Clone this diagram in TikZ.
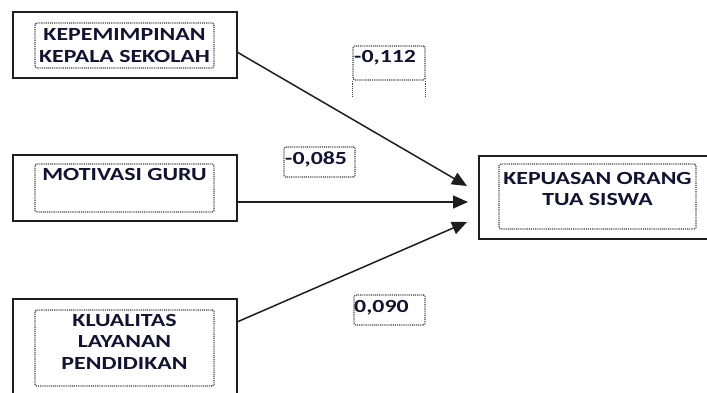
\documentclass[tikz,border=0pt]{standalone}
\usepackage{fontspec}
\usepackage{graphicx}
\setmainfont{Carlito}
\usetikzlibrary{arrows.meta}
\definecolor{txtc}{RGB}{18,18,50}
\definecolor{linec}{RGB}{30,30,30}
\newcommand\wt[1]{\scalebox{1.29}[1]{#1}}
\tikzset{
  outerbox/.style={draw=linec, line width=1.5pt, minimum width=#1, inner sep=0pt},
  dotbox/.style={draw=black!75, line width=1.2pt, dash pattern=on 1pt off 0.9pt, rounded corners=1.5pt, inner sep=0pt},
  txt/.style={anchor=base, inner sep=0pt, text=txtc, font=\fontsize{18.5}{20}\selectfont\bfseries},
  lbl/.style={anchor=base west, inner sep=0pt, text=txtc, font=\fontsize{18.5}{20}\selectfont\bfseries},
  conn/.style={draw=linec, line width=1.5pt, -{Triangle[length=15pt,width=13pt]}}
}
\begin{document}
\begin{tikzpicture}[x=1pt,y=-1pt]
\useasboundingbox (0,0) rectangle (707,392);
% outer boxes
\node[outerbox=224pt, minimum height=66pt] (kep) at (125,45) {};
\node[outerbox=224pt, minimum height=66pt] (mot) at (125,188) {};
\node[outerbox=224pt, minimum height=101pt] (kua) at (125,349.5) {};
\node[outerbox=241pt, minimum height=83pt] (ortu) at (599.5,197.5) {};
% inner dotted boxes
\node[dotbox, minimum width=179pt, minimum height=45pt] (kepin) at (124.5,45.5) {};
\node[dotbox, minimum width=179pt, minimum height=48pt] (motin) at (124.5,188) {};
\node[dotbox, minimum width=179pt, minimum height=76pt] (kuain) at (124.5,348) {};
\node[dotbox, minimum width=197pt, minimum height=65pt] (ortuin) at (597.5,196.5) {};
% texts
\node[txt] (kept1) at (124.5,40) {\wt{KEPEMIMPINAN}};
\node[txt] (kept2) at (124.5,62) {\wt{KEPALA SEKOLAH}};
\node[txt] (mott) at (124.5,180) {\wt{MOTIVASI GURU}};
\node[txt] (kuat1) at (124.5,326) {\wt{KLUALITAS}};
\node[txt] (kuat2) at (124.5,347.5) {\wt{LAYANAN}};
\node[txt] (kuat3) at (124.5,369) {\wt{PENDIDIKAN}};
\node[txt] (ortut1) at (597.5,184) {\wt{KEPUASAN ORANG}};
\node[txt] (ortut2) at (597.5,205) {\wt{TUA SISWA}};
% label boxes
\node[dotbox, minimum width=72pt, minimum height=34pt] (l1box) at (389,63) {};
\draw[dotbox] (l1box.south west) -- ++(0,16);
\draw[dotbox] (l1box.south east) -- ++(0,16);
\node[dotbox, minimum width=71pt, minimum height=30pt] (l2box) at (319.5,162) {};
\node[dotbox, minimum width=71pt, minimum height=30pt] (l3box) at (389.5,310) {};
\node[lbl] (l1) at (354,62) {\wt{-0,112}};
\node[lbl] (l2) at (285,164) {\wt{-0,085}};
\node[lbl] (l3) at (354,312) {\wt{0,090}};
% connectors
\coordinate (s1) at (237,52);
\coordinate (e1) at (467,186);
\coordinate (s2) at (237,202);
\coordinate (e2) at (468,202);
\coordinate (s3) at (237,322);
\coordinate (e3) at (467,222);
\draw[conn] (s1) -- (e1);
\draw[conn] (s2) -- (e2);
\draw[conn] (s3) -- (e3);
\end{tikzpicture}
\end{document}
